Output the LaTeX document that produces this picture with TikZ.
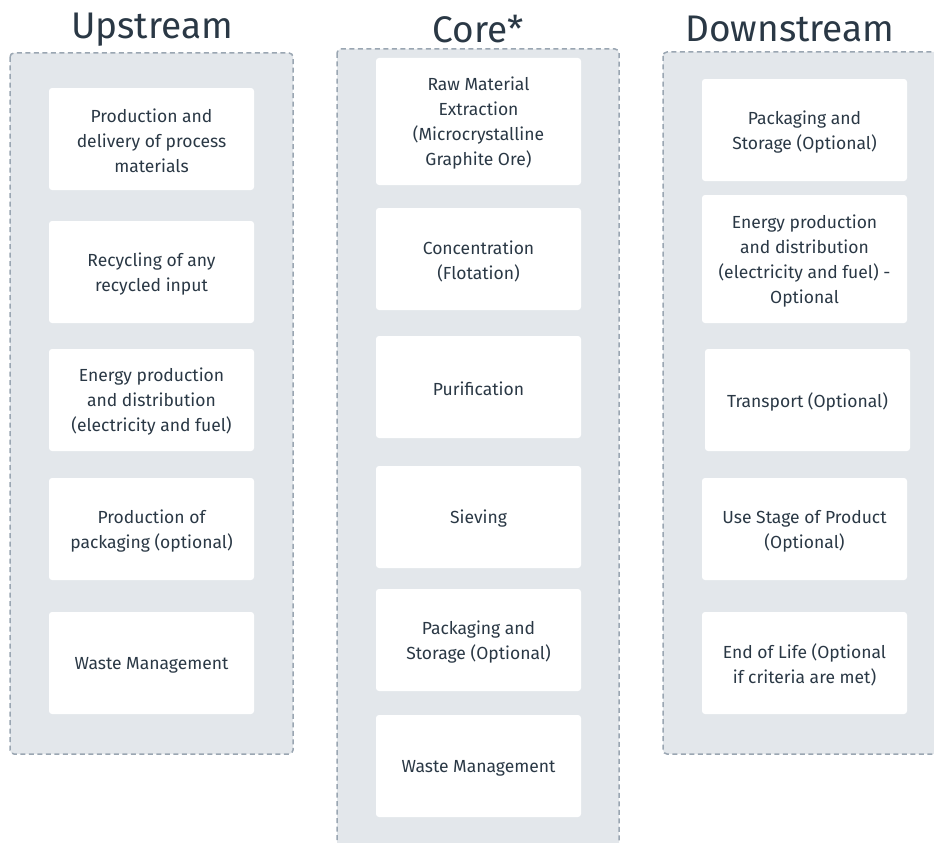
\documentclass[tikz,border=0pt]{standalone}
\usepackage{fontspec}
\setmainfont{Fira Sans}
\definecolor{txt}{HTML}{2A3845}
\definecolor{panel}{HTML}{E3E7EB}
\definecolor{dash}{HTML}{9AA6B2}
\begin{document}
\begin{tikzpicture}[x=1pt,y=-1pt,
  panelbox/.style={fill=panel,draw=dash,line width=1.5pt,dash pattern=on 5pt off 3.5pt,rounded corners=4pt},
  card/.style={fill=white,draw=none,rounded corners=3pt,inner sep=0pt},
  cardtext/.style={text=txt,font=\fontsize{17.5}{25}\selectfont,align=center,inner sep=0pt},
  title/.style={text=txt,font=\fontsize{37}{40}\selectfont,inner sep=0pt}]
\useasboundingbox (0,0) rectangle (934,843);
\clip (0,0) rectangle (934,843);
% titles
\node[title] (tu) at (152,30) {Upstream};
\node[title] (tc) at (478,29) {Core*};
\node[title] (td) at (790,29) {Downstream};
% panels
\draw[panelbox] (10,53) rectangle (293,754);
\draw[panelbox] (337,49) rectangle (619,860);
\draw[panelbox] (663,52) rectangle (950,754);
\newcommand{\mycard}[6]{%
  \fill[card] (#2,#3) rectangle (#4,#5);
  \node[cardtext] (#1) at ({(#2+#4)/2},{(#3+#5)/2+2}) {#6};}
% Upstream
\mycard{u1}{49}{88}{254}{190}{Production and\\delivery of process\\materials}
\mycard{u2}{49}{221}{254}{323}{Recycling of any\\recycled input}
\mycard{u3}{49}{349}{254}{451}{Energy production\\and distribution\\(electricity and fuel)}
\mycard{u4}{49}{478}{254}{580}{Production of\\packaging (optional)}
\mycard{u5}{49}{612}{254}{714}{Waste Management}
% Core
\mycard{c1}{376}{58}{581}{185}{Raw Material\\Extraction\\(Microcrystalline\\Graphite Ore)}
\mycard{c2}{376}{208}{581}{310}{Concentration\\(Flotation)}
\mycard{c3}{376}{336}{581}{438}{Purification}
\mycard{c4}{376}{466}{581}{568}{Sieving}
\mycard{c5}{376}{589}{581}{691}{Packaging and\\Storage (Optional)}
\mycard{c6}{376}{715}{581}{817}{Waste Management}
% Downstream
\mycard{d1}{702}{79}{907}{181}{Packaging and\\Storage (Optional)}
\mycard{d2}{702}{195}{907}{323}{Energy production\\and distribution\\(electricity and fuel) -\\Optional}
\mycard{d3}{705}{349}{910}{451}{Transport (Optional)}
\mycard{d4}{702}{478}{907}{580}{Use Stage of Product\\(Optional)}
\mycard{d5}{702}{612}{907}{714}{End of Life (Optional\\if criteria are met)}
\end{tikzpicture}
\end{document}
